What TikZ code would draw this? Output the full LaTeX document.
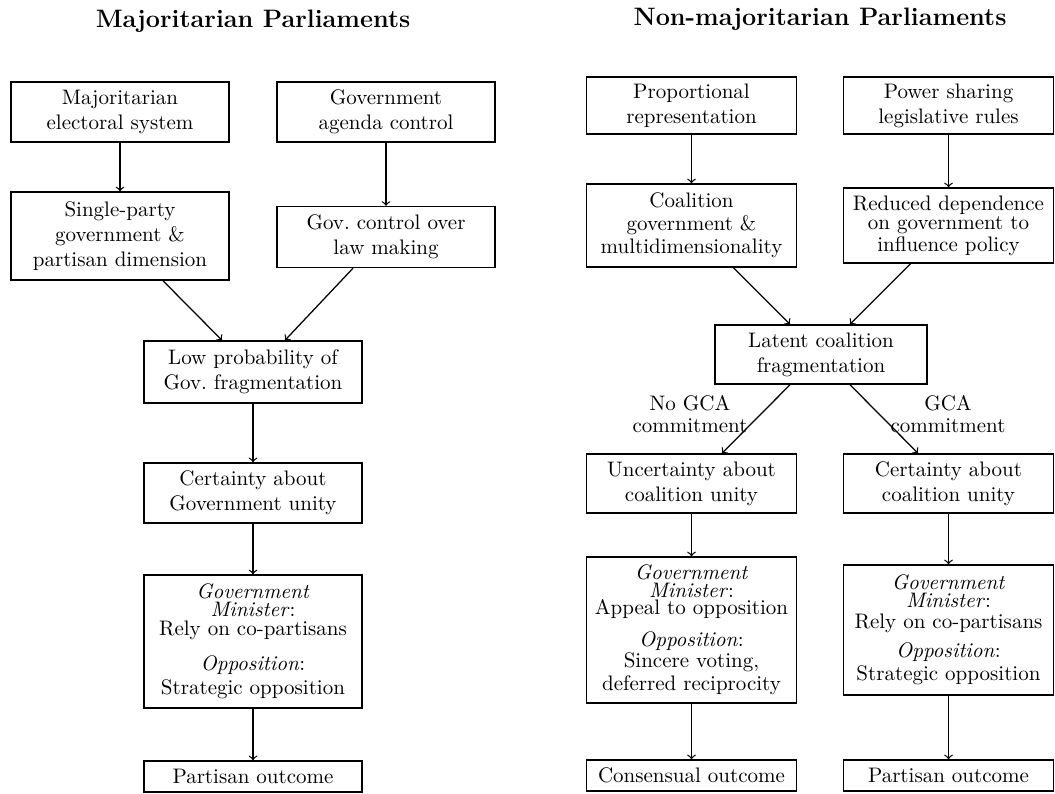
\documentclass[tikz,border=0pt]{standalone}
\usetikzlibrary{calc}
\begin{document}
\begin{tikzpicture}[x=0.476pt,y=-0.476pt,
  box/.style={draw,line width=0.7pt,align=center,inner sep=2pt},
  lbox/.style={box,minimum width=103.8pt},
  rbox/.style={box,minimum width=100pt},
  arr/.style={->,line width=0.6pt},
  ttl/.style={font=\large\bfseries},
  lbl/.style={align=center,inner sep=0pt}]
\useasboundingbox (0,0) rectangle (1055,793);
% titles
\node[ttl] (t1) at (253,21) {Majoritarian Parliaments};
\node[ttl] (t2) at (820,19) {Non-majoritarian Parliaments};
% left column
\node[lbox,minimum height=28.6pt] (A) at (120,112) {Majoritarian\\electoral system};
\node[lbox,minimum height=28.6pt] (B) at (386,112) {Government\\agenda control};
\node[lbox,minimum height=41.9pt] (C) at (120,236) {Single-party\\government \&\\partisan dimension};
\node[lbox,minimum height=29pt] (D) at (386,237) {Gov.\ control over\\law making};
\node[lbox,minimum height=29.5pt] (E) at (253,372) {Low probability of\\Gov.\ fragmentation};
\node[lbox,minimum height=28.6pt] (F) at (253,493) {Certainty about\\Government unity};
\node[lbox,minimum height=63.3pt] (G) at (253,641.5) {\textit{Government}\\[-3.6pt]\textit{Minister}:\\[-3pt]Rely on co-partisans\\[5pt]\textit{Opposition}:\\[-0.5pt]Strategic opposition};
\node[lbox,minimum height=14.8pt] (H) at (253,776.5) {Partisan outcome};
% right column
\node[rbox,minimum height=27.1pt] (P) at (691.5,105.5) {Proportional\\representation};
\node[rbox,minimum height=27.1pt] (Q) at (948.5,105.5) {Power sharing\\legislative rules};
\node[rbox,minimum height=39.5pt] (R) at (691.5,225.5) {Coalition\\[-1pt]government \&\\[-1pt]multidimensionality};
\node[rbox,minimum height=35.7pt] (S) at (948.5,225.5) {Reduced dependence\\[-3pt]on government to\\[-1.5pt]influence policy};
\node[box,minimum width=101pt,minimum height=28.1pt] (T) at (821,354.5) {Latent coalition\\fragmentation};
\node[rbox,minimum height=28.1pt] (U) at (691.5,483.5) {Uncertainty about\\coalition unity};
\node[rbox,minimum height=28.1pt] (V) at (948.5,483.5) {Certainty about\\coalition unity};
\node[rbox,minimum height=69.5pt] (W) at (691.5,630) {\textit{Government}\\[-3.8pt]\textit{Minister}:\\[-3.5pt]Appeal to opposition\\[3pt]\textit{Opposition}:\\[-2pt]Sincere voting,\\[-1pt]deferred reciprocity};
\node[rbox,minimum height=61.9pt] (X) at (948.5,630) {\textit{Government}\\[-3.6pt]\textit{Minister}:\\[-2pt]Rely on co-partisans\\[2pt]\textit{Opposition}:\\[-1pt]Strategic opposition};
\node[rbox,minimum height=14.8pt] (Y) at (691.5,775.5) {Consensual outcome};
\node[rbox,minimum height=14.8pt] (Z) at (948.5,775.5) {Partisan outcome};
% branch labels
\node[lbl] (l1) at (690,414) {No GCA\\[-1.5pt]commitment};
\node[lbl] (l2) at (948,414) {GCA\\[-1.5pt]commitment};
% left arrows
\draw[arr] (A) -- (C);
\draw[arr] (B) -- (D);
\draw[arr] ($(C.south)+(43,0)$) -- ($(E.north)+(-31,0)$);
\draw[arr] ($(D.south)+(-33,0)$) -- ($(E.north)+(32,0)$);
\draw[arr] (E) -- (F);
\draw[arr] (F) -- (G);
\draw[arr] (G) -- (H);
% right arrows
\draw[arr] (P) -- (R);
\draw[arr] (Q) -- (S);
\draw[arr] ($(R.south)+(42,0)$) -- ($(T.north)+(-31,0)$);
\draw[arr] ($(S.south)+(-38,0)$) -- ($(T.north)+(29,0)$);
\draw[arr] ($(T.south)+(-31,0)$) -- ($(U.north)+(30.5,0)$);
\draw[arr] ($(T.south)+(29,0)$) -- ($(V.north)+(-30.5,0)$);
\draw[arr] (U) -- (W);
\draw[arr] (V) -- (X);
\draw[arr] (W) -- (Y);
\draw[arr] (X) -- (Z);
\end{tikzpicture}
\end{document}
